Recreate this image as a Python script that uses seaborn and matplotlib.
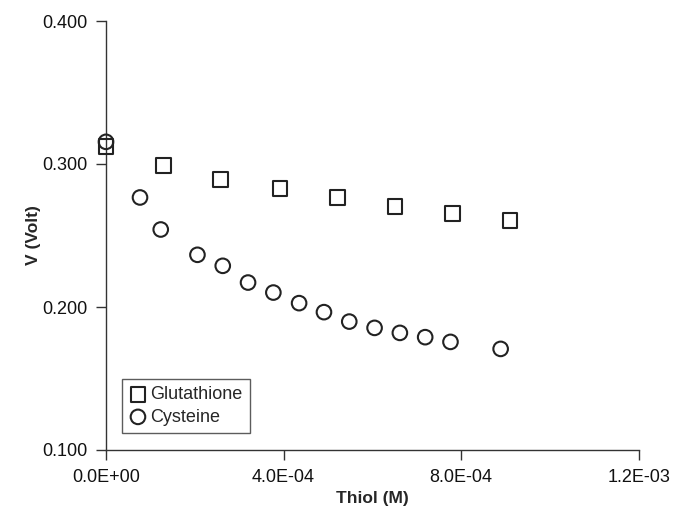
import matplotlib
matplotlib.use('Agg')
import numpy as np
import pandas as pd
import matplotlib.pyplot as plt
import seaborn as sns
from matplotlib.ticker import FuncFormatter, FixedLocator

# data
gsh_conc = [0.0, 1.29e-4, 2.585e-4, 3.92e-4, 5.22e-4, 6.51e-4, 7.80e-4, 9.10e-4]
gsh_volt = [0.3122, 0.2990, 0.2894, 0.2830, 0.2767, 0.2703, 0.2656, 0.2605]

cys_conc = [0.0, 0.766e-4, 1.233e-4, 2.06e-4, 2.63e-4, 3.20e-4, 3.77e-4, 4.35e-4,
            4.91e-4, 5.48e-4, 6.05e-4, 6.62e-4, 7.19e-4, 7.76e-4, 8.89e-4]
cys_volt = [0.3155, 0.2766, 0.2542, 0.2365, 0.2288, 0.2171, 0.2101, 0.2027,
            0.1964, 0.1898, 0.1854, 0.1819, 0.1789, 0.1756, 0.1707]

x_ticks = [0.0, 4.0e-4, 8.0e-4, 1.2e-3]
y_ticks = [0.1, 0.2, 0.3, 0.4]

sns.set_style('ticks')
plt.rcParams['font.family'] = ['Liberation Sans', 'DejaVu Sans']

ink = '#222222'

fig = plt.figure(figsize=(6.74, 5.13), dpi=100)
ax = fig.add_axes([106 / 674, 1 - 450 / 513, (638.7 - 106) / 674, (450 - 21) / 513])

df_g = pd.DataFrame({'conc': gsh_conc, 'volt': gsh_volt})
df_c = pd.DataFrame({'conc': cys_conc, 'volt': cys_volt})

sns.scatterplot(data=df_g, x='conc', y='volt', marker='s', s=115, color=ink,
                edgecolor=ink, linewidth=1.5, label='Glutathione', ax=ax,
                zorder=3, clip_on=False)
sns.scatterplot(data=df_c, x='conc', y='volt', marker='o', s=110, color=ink,
                edgecolor=ink, linewidth=1.5, label='Cysteine', ax=ax,
                zorder=3, clip_on=False)
for coll in ax.collections:
    coll.set_facecolor('none')
    coll.set_edgecolor(ink)

ax.set_xlim(0, 1.2e-3)
ax.set_ylim(0.1, 0.4)
ax.xaxis.set_major_locator(FixedLocator(x_ticks))
ax.yaxis.set_major_locator(FixedLocator(y_ticks))
ax.xaxis.set_major_formatter(FuncFormatter(lambda v, p: f'{v:.1E}'))
ax.yaxis.set_major_formatter(FuncFormatter(lambda v, p: f'{v:.3f}'))

for side in ['top', 'right']:
    ax.spines[side].set_visible(False)
for side in ['left', 'bottom']:
    ax.spines[side].set_color('#333333')
    ax.spines[side].set_linewidth(1.0)
ax.tick_params(axis='both', direction='out', length=7, width=1.0, color='#333333',
               labelsize=13, labelcolor='#111111')
ax.tick_params(axis='x', pad=7)
ax.tick_params(axis='y', pad=6)

ax.set_xlabel('Thiol (M)', fontsize=12.5, fontweight='bold', labelpad=3)
ax.set_ylabel('V (Volt)', fontsize=12.5, fontweight='bold', labelpad=1)

leg = ax.legend(loc='lower left', bbox_to_anchor=(0.0295, 0.040), borderaxespad=0,
                fontsize=13, frameon=True, fancybox=False, markerscale=1.0,
                handletextpad=0.2, handlelength=1.0, borderpad=0.4, labelspacing=0.3)
leg.get_frame().set_edgecolor('#333333')
leg.get_frame().set_linewidth(1.0)

fig.savefig('out.png', dpi=100)
